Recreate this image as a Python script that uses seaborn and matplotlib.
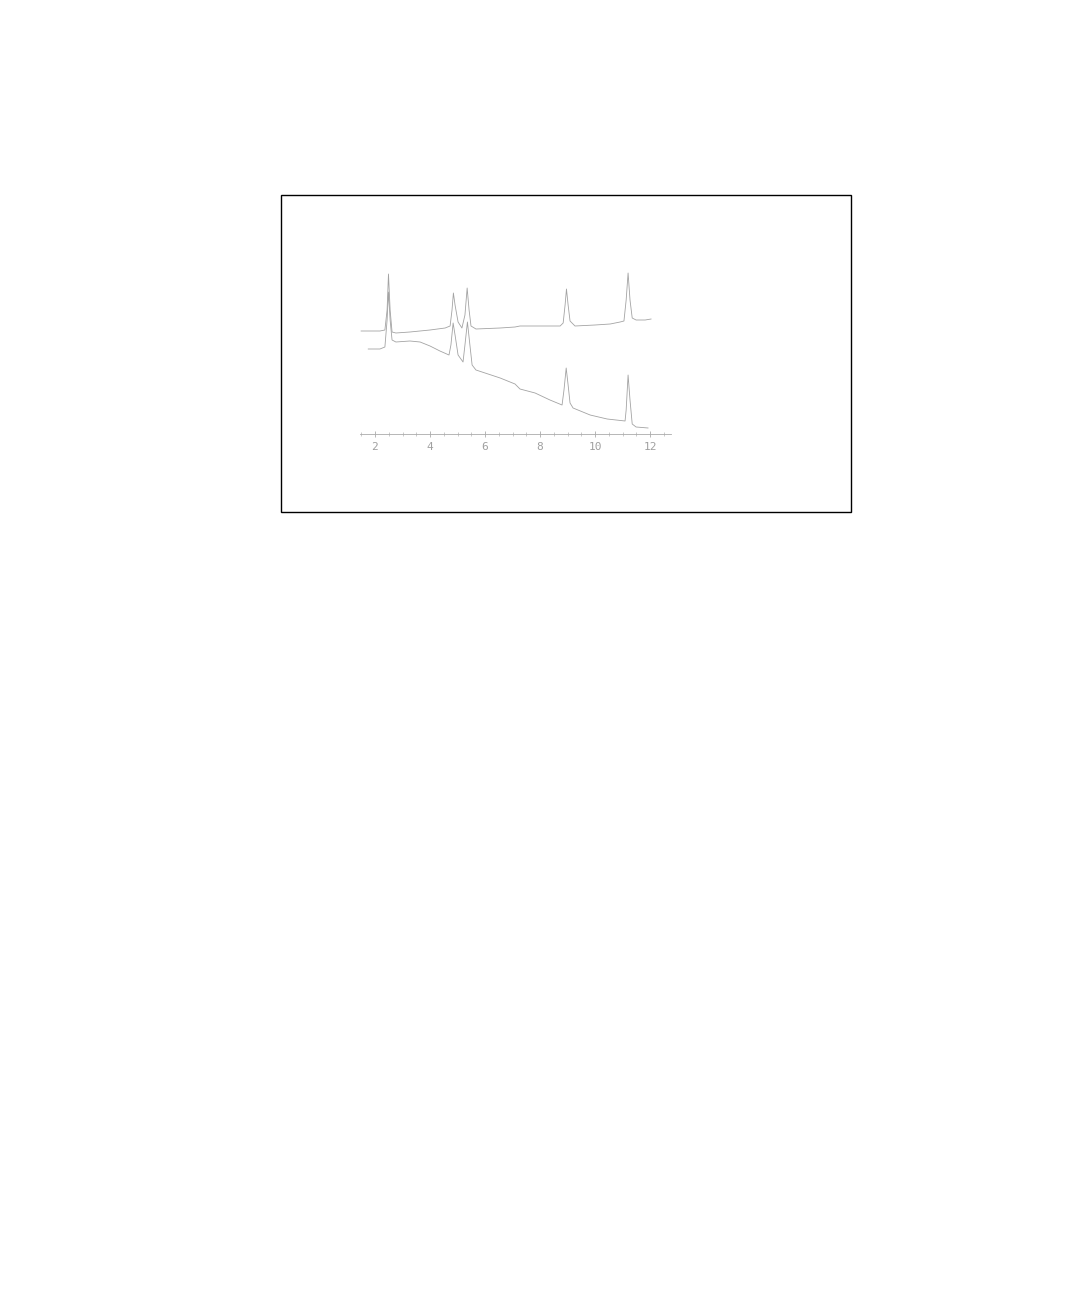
import matplotlib
matplotlib.use("Agg")
import matplotlib.pyplot as plt
from matplotlib.patches import Rectangle
from matplotlib.ticker import MultipleLocator
import seaborn as sns
import pandas as pd

# ---- data (retention time, signal) ----
upper_t = [1.49, 2.18, 2.36, 2.44, 2.49, 2.55, 2.62, 2.76, 3.27, 4.00, 4.55, 4.73, 4.80, 4.85,
           4.91, 5.02, 5.16, 5.27, 5.35, 5.42, 5.49, 5.67, 6.55, 7.09, 7.27, 8.00, 8.73, 8.84,
           8.91, 8.96, 9.02, 9.09, 9.27, 10.00, 10.55, 10.91, 11.05, 11.13, 11.20, 11.27, 11.35,
           11.49, 11.82, 12.04]
upper_s = [103, 103, 104, 124, 160, 124, 102, 101, 102, 104, 106, 108, 124, 141,
           129, 112, 106, 119, 146, 124, 108, 105, 106, 107, 108, 108, 108, 111,
           129, 145, 129, 113, 108, 109, 110, 112, 113, 134, 161, 134, 116,
           114, 114, 115]

lower_t = [1.75, 2.18, 2.36, 2.44, 2.49, 2.55, 2.62, 2.76, 3.27, 3.64, 4.00, 4.36, 4.69, 4.76,
           4.84, 4.91, 5.02, 5.20, 5.27, 5.36, 5.45, 5.53, 5.67, 6.00, 6.55, 7.09, 7.27, 7.82,
           8.36, 8.80, 8.87, 8.95, 9.02, 9.09, 9.20, 9.82, 10.44, 11.09, 11.13, 11.20, 11.27,
           11.35, 11.49, 11.93]
lower_s = [85, 85, 87, 114, 142, 114, 94, 92, 93, 92, 88, 83, 79, 89,
           111, 99, 79, 72, 89, 112, 89, 69, 64, 61, 56, 50, 45, 41,
           34, 29, 44, 66, 49, 31, 26, 19, 15, 13, 24, 59, 34,
           10, 7, 6]

tick_pos = [2, 4, 6, 8, 10, 12]
tick_labels = ["2", "4", "6", "8", "10", "12"]

df = pd.concat([
    pd.DataFrame({"t": upper_t, "s": upper_s, "run": "A"}),
    pd.DataFrame({"t": lower_t, "s": lower_s, "run": "B"}),
])

sns.set_style("white")
W, H = 1080, 1298
fig = plt.figure(figsize=(W / 100, H / 100), dpi=100)

# outer frame
fig.add_artist(Rectangle((281 / W, 1 - 512 / H), 570 / W, 317 / H,
                         transform=fig.transFigure, fill=False,
                         edgecolor="black", linewidth=1.0))

ax = fig.add_axes([360 / W, 1 - 434 / H, 311 / W, (434 - 268) / H])
ax.patch.set_alpha(0)
sns.lineplot(data=df, x="t", y="s", units="run", estimator=None, sort=False,
             color="#a3a3a3", linewidth=0.6, ax=ax, legend=False)

ax.set_xlim(1.455, 12.76)
ax.set_ylim(0, 166)
for side in ["top", "right", "left"]:
    ax.spines[side].set_visible(False)
ax.spines["bottom"].set_color("#ababab")
ax.spines["bottom"].set_linewidth(0.6)
ax.set_yticks([])
ax.set_xticks(tick_pos)
ax.set_xticklabels(tick_labels)
ax.xaxis.set_minor_locator(MultipleLocator(0.5))
ax.tick_params(axis="x", which="major", direction="inout", length=5, width=0.6,
               color="#ababab", labelsize=8, labelcolor="#a0a0a0", pad=3, bottom=True)
ax.tick_params(axis="x", which="minor", direction="inout", length=3, width=0.5,
               color="#b5b5b5", bottom=True)
ax.set_xlabel("")
ax.set_ylabel("")
for lbl in ax.get_xticklabels():
    lbl.set_fontfamily("DejaVu Sans Mono")

fig.savefig("out.png", dpi=100, facecolor="white")
